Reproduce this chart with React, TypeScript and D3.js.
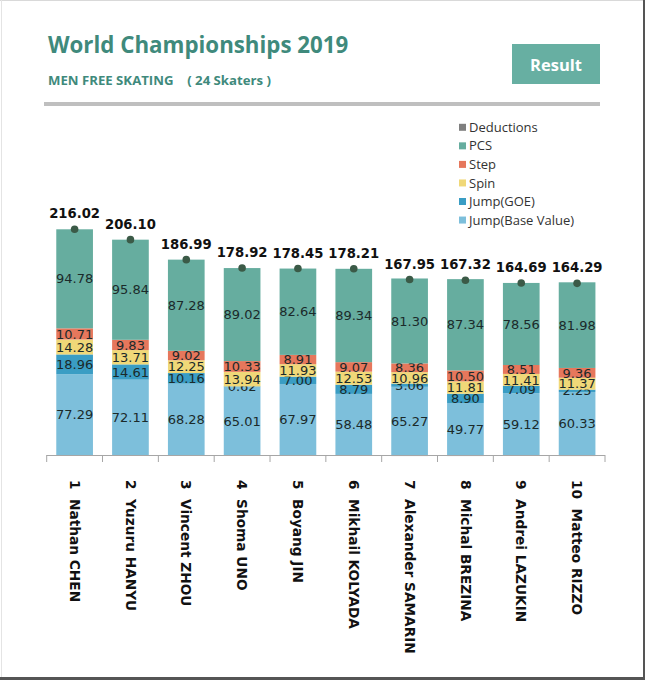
import React from "react";
import * as d3 from "d3";

const skaters = [
  "1  Nathan CHEN",
  "2  Yuzuru HANYU",
  "3  Vincent ZHOU",
  "4  Shoma UNO",
  "5  Boyang JIN",
  "6  Mikhail KOLYADA",
  "7  Alexander SAMARIN",
  "8  Michal BREZINA",
  "9  Andrei LAZUKIN",
  "10  Matteo RIZZO",
];
const jumpBase = [77.29, 72.11, 68.28, 65.01, 67.97, 58.48, 65.27, 49.77, 59.12, 60.33];
const jumpGoe = [18.96, 14.61, 10.16, 0.62, 7.0, 8.79, 3.06, 8.9, 7.09, 2.25];
const spin = [14.28, 13.71, 12.25, 13.94, 11.93, 12.53, 10.96, 11.81, 11.41, 11.37];
const step = [10.71, 9.83, 9.02, 10.33, 8.91, 9.07, 8.36, 10.5, 8.51, 9.36];
const pcs = [94.78, 95.84, 87.28, 89.02, 82.64, 89.34, 81.3, 87.34, 78.56, 81.98];
const deductions = [0, 0, 0, 0, 0, 0, -1, -1, 0, -1];
const totals = [216.02, 206.1, 186.99, 178.92, 178.45, 178.21, 167.95, 167.32, 164.69, 164.29];

const seriesNames = ["Jump(Base Value)", "Jump(GOE)", "Spin", "Step", "PCS"];
const seriesData = [jumpBase, jumpGoe, spin, step, pcs];
const seriesColors = ["#7dbfdb", "#3a9dc4", "#f0d878", "#e6775c", "#66ad9f"];
const legendNames = ["Deductions", "PCS", "Step", "Spin", "Jump(GOE)", "Jump(Base Value)"];
const legendColors = ["#7f7f7f", "#66ad9f", "#e6775c", "#f0d878", "#3a9dc4", "#7dbfdb"];

export default function App() {
  const W = 645;
  const H = 680;
  const x = d3
    .scaleBand<string>()
    .domain(skaters)
    .range([46.7, 605])
    .paddingInner(0.343)
    .paddingOuter(0.1715);
  const y = d3.scaleLinear().domain([0, 250]).range([455, 455 - 250 * 1.0448]);
  const bw = x.bandwidth();
  const step0 = x.step();
  const valFont = "'DejaVu Sans', Verdana, sans-serif";

  const segs: JSX.Element[] = [];
  skaters.forEach((s, i) => {
    let acc = 0;
    seriesData.forEach((arr, k) => {
      const v = arr[i];
      const y0 = y(acc);
      const y1 = y(acc + v);
      acc += v;
      segs.push(
        <rect key={`r${i}-${k}`} x={x(s)} y={y1} width={bw} height={y0 - y1} fill={seriesColors[k]} />
      );
      segs.push(
        <text
          key={`t${i}-${k}`}
          x={(x(s) as number) + bw / 2}
          y={(y0 + y1) / 2}
          dy="0.36em"
          textAnchor="middle"
          fontFamily={valFont}
          fontSize={13}
          fill="#1b2a2a"
        >
          {v.toFixed(2)}
        </text>
      );
    });
    if (deductions[i] < 0) {
      segs.push(
        <rect
          key={`d${i}`}
          x={x(s)}
          y={y(0)}
          width={bw}
          height={y(deductions[i]) - y(0)}
          fill="#7f7f7f"
        />
      );
    }
  });

  const ticks = d3.range(skaters.length + 1).map((i) => 46.7 + i * step0);

  return (
    <svg
      width={W}
      height={H}
      style={{ position: "absolute", left: 0, top: 0, display: "block", background: "#fff" }}
    >
      <rect x={0} y={0} width={W} height={H} fill="#fff" />
      <line x1={0} y1={0.5} x2={W} y2={0.5} stroke="#d9d9d9" />
      <line x1={1.5} y1={0} x2={1.5} y2={H} stroke="#e4e4e4" />
      <line x1={W - 1} y1={0} x2={W - 1} y2={H} stroke="#555" strokeWidth={2} />
      <line x1={0} y1={H - 1.5} x2={W} y2={H - 1.5} stroke="#555" strokeWidth={3} />

      <text x={48} y={53} fontFamily="'Open Sans', sans-serif" fontWeight={700} fontSize={22.3} fill="#3f8a7c">
        World Championships 2019
      </text>
      <text x={48} y={85} fontFamily="'Open Sans', sans-serif" fontWeight={700} fontSize={13.2} fill="#3f8a7c" xmlSpace="preserve">
        {"MEN FREE SKATING    ( 24 Skaters )"}
      </text>
      <rect x={512} y={44} width={88} height={40} fill="#67afa2" />
      <text x={556} y={70.5} textAnchor="middle" fontFamily="'Open Sans', sans-serif" fontWeight={700} fontSize={16.5} fill="#fff">
        Result
      </text>
      <rect x={44} y={102} width={556} height={4} fill="#bfbfbf" />

      {legendNames.map((n, i) => (
        <g key={n} transform={`translate(459, ${127.3 + i * 18.55})`}>
          <rect x={0} y={-3.5} width={7} height={7} fill={legendColors[i]} />
          <text x={10} y={0} dy="0.35em" fontFamily="'Open Sans', sans-serif" fontSize={13} fill="#333">
            {n}
          </text>
        </g>
      ))}

      {segs}

      <line x1={46.7} y1={455.5} x2={605} y2={455.5} stroke="#a6a6a6" />
      {ticks.map((t, i) => (
        <line key={`tk${i}`} x1={t} y1={455} x2={t} y2={462} stroke="#a6a6a6" />
      ))}

      {skaters.map((s, i) => {
        const cx = (x(s) as number) + bw / 2;
        const ty = y(totals[i]);
        return (
          <g key={`tot${i}`}>
            <circle cx={cx} cy={ty} r={3.8} fill="#3b5a47" />
            <text
              x={cx}
              y={ty - 11}
              textAnchor="middle"
              fontFamily={valFont}
              fontWeight={700}
              fontSize={13.2}
              fill="#111"
            >
              {totals[i].toFixed(2)}
            </text>
          </g>
        );
      })}

      {skaters.map((s, i) => {
        const cx = (x(s) as number) + bw / 2;
        return (
          <text
            key={`lab${i}`}
            transform={`translate(${cx}, 480) rotate(90)`}
            dy="0.35em"
            fontFamily={valFont}
            fontWeight={700}
            fontSize={13.7}
            fill="#111"
            xmlSpace="preserve"
          >
            {s}
          </text>
        );
      })}
    </svg>
  );
}
